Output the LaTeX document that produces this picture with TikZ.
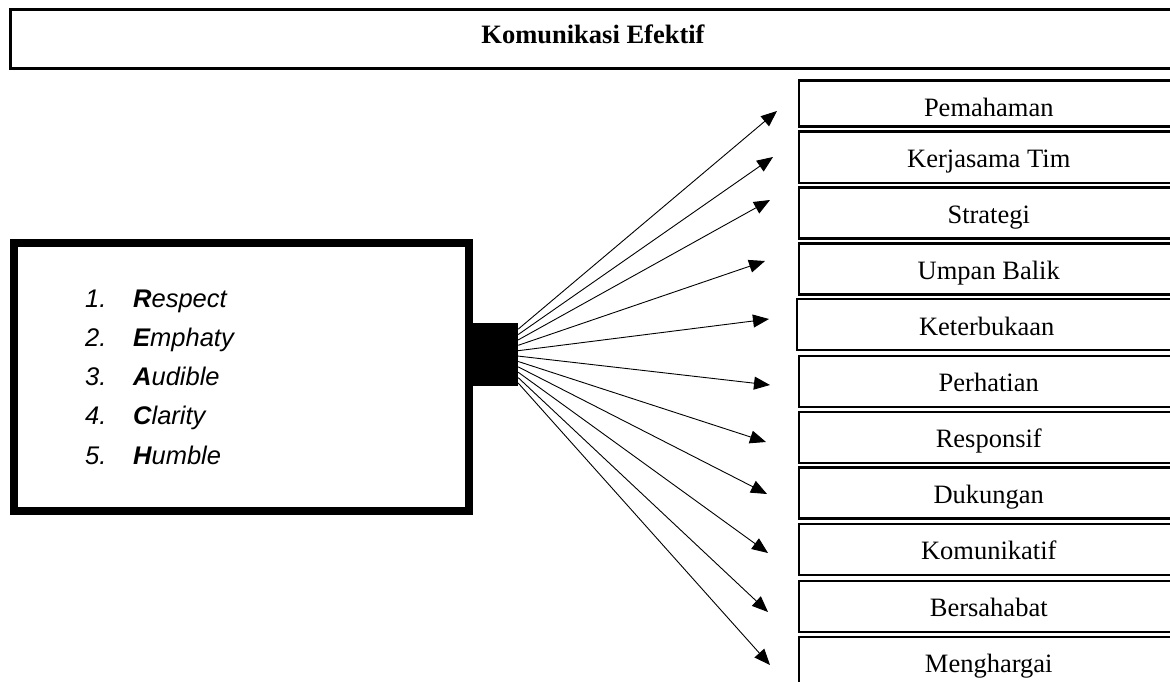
\documentclass[tikz,border=0pt]{standalone}
\usepackage{fontspec}
\setmainfont{Liberation Serif}
\newfontfamily\listfont{Liberation Sans}
\usetikzlibrary{arrows.meta,calc}
\begin{document}
\begin{tikzpicture}[x=1pt,y=-1pt,
  titlebox/.style={draw,line width=3pt,minimum width=1166pt,minimum height=59pt,inner sep=0pt,
    text height=18pt,text depth=9pt,font=\fontsize{26.5}{30}\selectfont\bfseries},
  itembox/.style={draw,line width=2.5pt,anchor=north west,minimum width=380pt,inner sep=0pt,
    text height=24pt,text depth=3pt,font=\fontsize{26.5}{30}\selectfont},
  framebox/.style={draw,line width=7.5pt,minimum width=455pt,minimum height=268pt,inner sep=0pt},
  hubbox/.style={fill=black,minimum width=45pt,minimum height=63pt,inner sep=0pt},
  listitem/.style={anchor=base west,inner sep=0pt,font=\listfont\itshape\fontsize{25.5}{30}\selectfont},
  arr/.style={line width=0.9pt,-{Triangle[length=16pt,width=13pt]}}]
\useasboundingbox (0,0) rectangle (1170,682);
\clip (0,0) rectangle (1170,682);

% heading bar
\node[titlebox] (title) at (593,39.5) {Komunikasi Efektif};

% left frame with the REACH list
\node[framebox] (frame) at (241.4,377) {};
\foreach \n/\ltr/\rst [count=\i] in {1/R/espect,2/E/mphaty,3/A/udible,4/C/larity,5/H/umble}{
  \node[listitem] (num\i) at (85,{307+39.3*(\i-1)}) {\n.};
  \node[listitem] (word\i) at (133,{307+39.3*(\i-1)}) {\textbf{\ltr}\rst};
}

% black connector block
\node[hubbox] (hub) at (495.5,354.5) {};

% outcome boxes on the right
\node[itembox,minimum height=46pt,text height=26pt,text depth=1pt] (r1) at (797.5,79.5) {Pemahaman};
\foreach \t/\dx/\lbl [count=\i from 2] in {
  130.5/0/Kerjasama Tim,
  186/0/Strategi,
  242/0/Umpan Balik,
  297.8/-2/Keterbukaan,
  354.5/0/Perhatian,
  410.5/0/Responsif,
  466/0/Dukungan,
  522.7/0/Komunikatif,
  579.5/0/Bersahabat,
  635.5/0/Menghargai}{
  \node[itembox,minimum height=51pt] (r\i) at ({797.5+\dx},\t) {\lbl};
}

% arrow tips
\coordinate (t1) at (777,111);
\coordinate (t2) at (773,157);
\coordinate (t3) at (770,200);
\coordinate (t4) at (765,261);
\coordinate (t5) at (769,319);
\coordinate (t6) at (770,385);
\coordinate (t7) at (766,442);
\coordinate (t8) at (767,494);
\coordinate (t9) at (768,553);
\coordinate (t10) at (768,612);
\coordinate (t11) at (770,665);

% fan of arrows from the block
\foreach \i in {1,...,11}{
  \pgfmathsetmacro\s{0.1+0.085*(\i-1)}
  \draw[arr] ($(hub.north east)!\s!(hub.south east)$) -- (t\i);
}
\end{tikzpicture}
\end{document}
